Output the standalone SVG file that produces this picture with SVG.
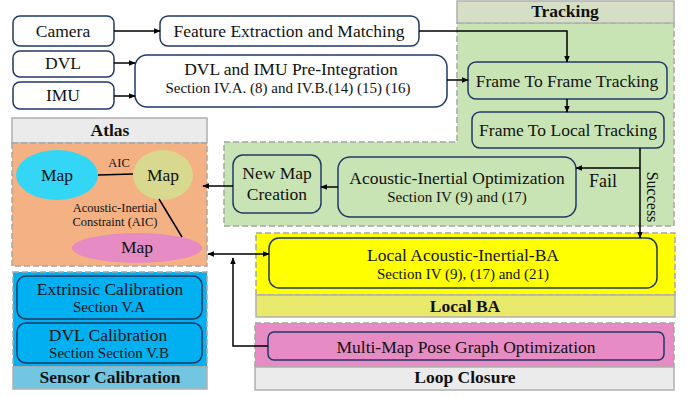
<svg xmlns="http://www.w3.org/2000/svg" width="691" height="397" viewBox="0 0 691 397">
<defs>
<marker id="ah" viewBox="0 0 10 10" refX="9" refY="5" markerWidth="7" markerHeight="7" markerUnits="userSpaceOnUse" orient="auto-start-reverse">
<path d="M0,1 L10,5 L0,9 z" fill="#000"/>
</marker>
<style>
.t{font-family:"Liberation Serif","Times New Roman",serif;fill:#111;text-anchor:middle}
.l{font-size:17.5px}
.s{font-size:15px}
.h{font-size:17.5px;font-weight:bold}
.m{font-size:12.5px}
.box{stroke:#203864;stroke-width:1.5}
.reg{stroke:#a6a6a6;stroke-width:1.5;stroke-dasharray:6,3}
.hdr{stroke:#b0b0b0;stroke-width:1.5}
.c{fill:none;stroke:#000;stroke-width:1.5}
</style>
</defs>
<rect width="691" height="397" fill="#fff"/>

<g id="tracking-region">
<path class="reg" d="M457,23 H674 V226 H224 V142 H457 Z" fill="#c9e4b4"/>
<rect class="hdr" x="457" y="1" width="217" height="22" fill="#d5dfc6"/>
<text class="t h" x="565" y="17">Tracking</text>
</g>
<g id="atlas-region">
<rect class="hdr" x="12" y="118" width="195" height="25" fill="#ebebeb"/>
<text class="t h" x="110" y="136">Atlas</text>
<rect class="reg" x="12" y="143" width="195" height="123" fill="#f4b183"/>
</g>
<g id="sensor-region">
<rect class="reg" x="13" y="272" width="194" height="95" fill="#00b0f0"/>
<rect class="hdr" x="13" y="367" width="194" height="22" fill="#73c6e2"/>
<text class="t h" x="110" y="383">Sensor Calibration</text>
</g>
<g id="localba-region">
<rect class="reg" x="256" y="233" width="419" height="62" fill="#ffff00"/>
<rect class="hdr" x="256" y="295" width="419" height="22" fill="#e9e96b"/>
<text class="t h" x="465" y="312">Local BA</text>
</g>
<g id="loop-region">
<rect class="reg" x="255" y="323" width="419" height="44" fill="#e68bc3"/>
<rect class="hdr" x="255" y="367" width="419" height="23" fill="#ebebeb"/>
<text class="t h" x="465" y="383">Loop Closure</text>
</g>

<g id="camera"><rect class="box" x="13" y="16" width="101" height="30" rx="7" fill="#fff"/><text class="t l" x="63" y="37">Camera</text></g>
<g id="dvl"><rect class="box" x="13" y="51" width="101" height="26" rx="7" fill="#fff"/><text class="t l" x="63" y="69">DVL</text></g>
<g id="imu"><rect class="box" x="13" y="82" width="101" height="27" rx="7" fill="#fff"/><text class="t l" x="63" y="101">IMU</text></g>
<g id="feature"><rect class="box" x="160" y="16" width="259" height="30" rx="8" fill="#fff"/><text class="t l" x="289" y="37">Feature Extraction and Matching</text></g>
<g id="preint"><rect class="box" x="135" y="55" width="312" height="52" rx="12" fill="#fff"/><text class="t l" x="291" y="75">DVL and IMU Pre-Integration</text><text class="t s" x="288" y="93">Section IV.A. (8) and IV.B.(14) (15) (16)</text></g>
<g id="f2f"><rect class="box" x="468" y="62" width="199" height="37" rx="8" fill="none"/><text class="t l" x="567" y="87">Frame To Frame Tracking</text></g>
<g id="f2l"><rect class="box" x="472" y="112" width="192" height="36" rx="8" fill="none"/><text class="t l" x="568" y="136">Frame To Local Tracking</text></g>
<g id="aio"><rect class="box" x="338" y="157" width="238" height="60" rx="12" fill="none"/><text class="t l" x="457" y="184">Acoustic-Inertial Optimization</text><text class="t s" x="457" y="202">Section IV (9) and (17)</text></g>
<g id="newmap"><rect class="box" x="233" y="155" width="88" height="58" rx="10" fill="none"/><text class="t l" x="277" y="179">New Map</text><text class="t l" x="277" y="200">Creation</text></g>

<g id="maps">
<ellipse cx="57" cy="175" rx="41" ry="25" fill="#33d6f5"/>
<text class="t l" x="57" y="181">Map</text>
<ellipse cx="163" cy="175" rx="30" ry="25" fill="#d8d88e"/>
<text class="t l" x="163" y="181">Map</text>
<ellipse cx="137" cy="248" rx="65" ry="15" fill="#e68bc3"/>
<text class="t l" x="137" y="253">Map</text>
<line x1="98" y1="175" x2="133" y2="174" stroke="#000" stroke-width="1.5"/>
<line x1="159" y1="199" x2="182" y2="237" stroke="#000" stroke-width="1.5"/>
<text class="t m" x="119" y="167">AIC</text>
<text class="t m" x="115" y="212">Acoustic-Inertial</text>
<text class="t m" x="115" y="226">Constraint (AIC)</text>
</g>

<g id="extrinsic"><rect class="box" x="17" y="276" width="185" height="43" rx="9" fill="none"/><text class="t l" x="110" y="295">Extrinsic Calibration</text><text class="t s" x="109" y="312">Section V.A</text></g>
<g id="dvlcal"><rect class="box" x="17" y="323" width="185" height="40" rx="9" fill="none"/><text class="t l" x="108" y="341">DVL Calibration</text><text class="t s" x="109" y="358">Section Section V.B</text></g>
<g id="localba"><rect class="box" x="269" y="238" width="388" height="50" rx="10" fill="none"/><text class="t l" x="463" y="261">Local Acoustic-Inertial-BA</text><text class="t s" x="463" y="279">Section IV (9), (17) and (21)</text></g>
<g id="multimap"><rect class="box" x="268" y="332" width="396" height="28" rx="6" fill="none"/><text class="t l" x="466" y="353">Multi-Map Pose Graph Optimization</text></g>

<g id="connectors">
<line class="c" x1="114" y1="31" x2="160" y2="31" marker-end="url(#ah)"/>
<line class="c" x1="114" y1="63" x2="135" y2="63" marker-end="url(#ah)"/>
<line class="c" x1="114" y1="96" x2="135" y2="96" marker-end="url(#ah)"/>
<polyline class="c" points="419,31 567,31 567,62" marker-end="url(#ah)"/>
<line class="c" x1="447" y1="80" x2="468" y2="80" marker-end="url(#ah)"/>
<line class="c" x1="567" y1="99" x2="567" y2="112" marker-end="url(#ah)"/>
<line class="c" x1="640" y1="148" x2="640" y2="238" marker-end="url(#ah)"/>
<line class="c" x1="640" y1="168" x2="576" y2="168" marker-end="url(#ah)"/>
<line class="c" x1="338" y1="187" x2="321" y2="187" marker-end="url(#ah)"/>
<line class="c" x1="233" y1="186" x2="203" y2="186" marker-end="url(#ah)"/>
<line class="c" x1="208" y1="254" x2="269" y2="254" marker-start="url(#ah)" marker-end="url(#ah)"/>
<polyline class="c" points="268,346 233,346 233,258" marker-end="url(#ah)"/>
<text class="t" font-size="18px" x="603" y="187">Fail</text>
<text class="t" font-size="16px" transform="translate(647,197) rotate(90)">Success</text>
</g>
</svg>
